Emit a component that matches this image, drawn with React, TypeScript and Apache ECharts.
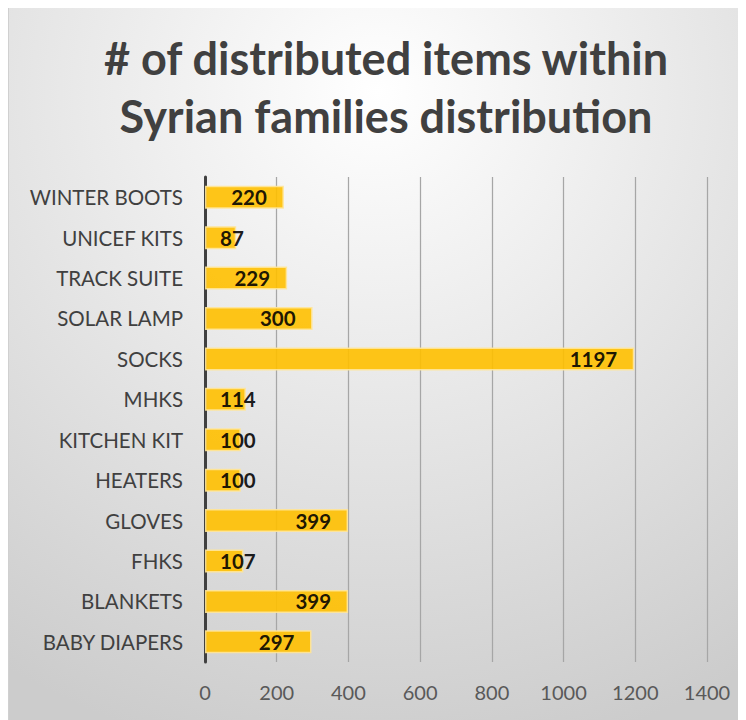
import React, { useEffect, useRef } from "react";
import * as echarts from "echarts";

const categories = [
  "WINTER BOOTS",
  "UNICEF KITS",
  "TRACK SUITE",
  "SOLAR LAMP",
  "SOCKS",
  "MHKS",
  "KITCHEN KIT",
  "HEATERS",
  "GLOVES",
  "FHKS",
  "BLANKETS",
  "BABY DIAPERS",
];
const values = [220, 87, 229, 300, 1197, 114, 100, 100, 399, 107, 399, 297];
const xTicks = { min: 0, max: 1400, interval: 200 };
const titleText = "# of distributed items within\nSyrian families distribution";

const FONT = "Lato, 'Noto Sans', sans-serif";

export default function App() {
  const ref = useRef<HTMLDivElement>(null);
  useEffect(() => {
    if (!ref.current) return;
    const chart = echarts.init(ref.current, null, { renderer: "svg" });
    const data = values.map((v) => ({
      value: v,
      label:
        v < 150
          ? { position: "insideLeft", distance: 15 }
          : { position: "insideRight", distance: 17 },
    }));
    chart.setOption({
      animation: false,
      backgroundColor: {
        type: "radial",
        x: 0.5,
        y: 0.12,
        r: 0.95,
        colorStops: [
          { offset: 0, color: "#ffffff" },
          { offset: 1, color: "#cccccc" },
        ],
      },
      title: {
        text: titleText,
        left: 378,
        top: 23,
        padding: 0,
        textAlign: "center",
        textStyle: {
          fontFamily: FONT,
          fontWeight: "bold",
          fontSize: 45,
          lineHeight: 58,
          color: "#404040",
        },
      },
      grid: { left: 197, right: 39, top: 171, bottom: 58, containLabel: false },
      xAxis: {
        type: "value",
        min: xTicks.min,
        max: xTicks.max,
        interval: xTicks.interval,
        axisLine: { show: false },
        axisTick: { show: false },
        axisLabel: {
          fontFamily: FONT,
          fontSize: 20,
          color: "#595959",
          margin: 20,
          formatter: (v: number) => String(v),
        },
        splitLine: { show: true, lineStyle: { color: "#a6a6a6", width: 1.25 } },
      },
      yAxis: {
        type: "category",
        data: categories,
        inverse: true,
        axisLine: { show: true, lineStyle: { color: "#404040", width: 3 } },
        axisTick: { show: false },
        axisLabel: { fontFamily: FONT, fontSize: 20.5, color: "#404040", margin: 22 },
        splitLine: { show: false },
      },
      series: [
        {
          type: "bar",
          data,
          barWidth: 23,
          itemStyle: {
            color: "#FFC000",
            opacity: 0.9,
            borderColor: "#FFE699",
            borderWidth: 1.5,
          },
          label: {
            show: true,
            fontFamily: FONT,
            fontWeight: "bold",
            fontSize: 20.5,
            color: "#000000",
          },
        },
      ],
      graphic: [
        {
          type: "line",
          shape: { x1: 0.5, y1: 0, x2: 0.5, y2: 714 },
          style: { stroke: "#d0d0d0", lineWidth: 1 },
        },
        {
          type: "line",
          shape: { x1: 0, y1: 0.5, x2: 738, y2: 0.5 },
          style: { stroke: "#d0d0d0", lineWidth: 1 },
        },
      ],
    });
    return () => chart.dispose();
  }, []);
  return <div ref={ref} style={{ width: 738, height: 714, marginTop: -2 }} />;
}
